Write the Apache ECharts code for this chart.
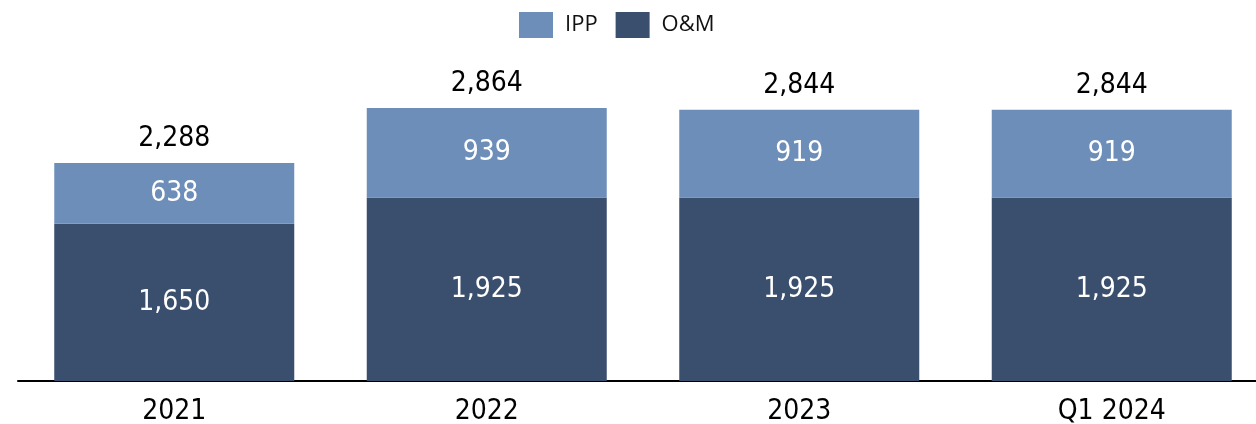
<!DOCTYPE html>
<html>
<head>
<meta charset="utf-8">
<script src="https://cdn.jsdelivr.net/npm/echarts@6/dist/echarts.min.js"></script>
<style>
  html, body { margin: 0; padding: 0; background: #fff; }
  #chart { width: 1256px; height: 424px; }
</style>
</head>
<body>
<div id="chart"></div>
<script>
const categories = ['2021', '2022', '2023', 'Q1 2024'];
const omValues = [1650, 1925, 1925, 1925];
const ippValues = [638, 939, 919, 919];
const totals = omValues.map((v, i) => v + ippValues[i]);

const condensed = '"DejaVu Sans Condensed", "Liberation Sans Narrow", sans-serif';
const fmt = (v) => v.toLocaleString('en-US');

const chart = echarts.init(document.getElementById('chart'));
chart.setOption({
  animation: false,
  legend: {
    data: ['IPP', 'O&M'],
    top: 7,
    left: 514,
    icon: 'rect',
    itemWidth: 34,
    itemHeight: 26,
    itemGap: 18,
    textStyle: { fontSize: 22, color: '#111', fontFamily: '"Open Sans", sans-serif', padding: [0, 0, 0, 7] }
  },
  grid: { left: 18, right: -12, top: 95, bottom: 43, outerBoundsMode: 'none' },
  xAxis: {
    type: 'category',
    data: categories,
    axisLine: { lineStyle: { color: '#000', width: 2 } },
    axisTick: { show: false },
    axisLabel: { fontSize: 28, color: '#000', fontFamily: condensed, margin: 17 }
  },
  yAxis: {
    type: 'value',
    min: 0,
    max: 3000,
    show: false
  },
  series: [
    {
      name: 'O&M',
      type: 'bar',
      stack: 'total',
      barWidth: 240,
      data: omValues,
      itemStyle: { color: '#3a4e6e' },
      label: {
        show: true, position: 'inside', color: '#fff', fontSize: 28, fontFamily: condensed,
        formatter: (p) => fmt(p.value)
      }
    },
    {
      name: 'IPP',
      type: 'bar',
      stack: 'total',
      barWidth: 240,
      data: ippValues,
      itemStyle: { color: '#6e8eba' },
      label: {
        show: true, position: 'inside', color: '#fff', fontSize: 28, fontFamily: condensed,
        formatter: (p) => fmt(p.value)
      }
    },
    {
      name: 'Total',
      type: 'bar',
      stack: 'total',
      barWidth: 240,
      data: totals.map(() => 0),
      itemStyle: { color: 'transparent' },
      label: {
        show: true, position: 'top', distance: 10, color: '#000', fontSize: 28, fontFamily: condensed,
        formatter: (p) => fmt(totals[p.dataIndex])
      }
    }
  ]
});
</script>
</body>
</html>
